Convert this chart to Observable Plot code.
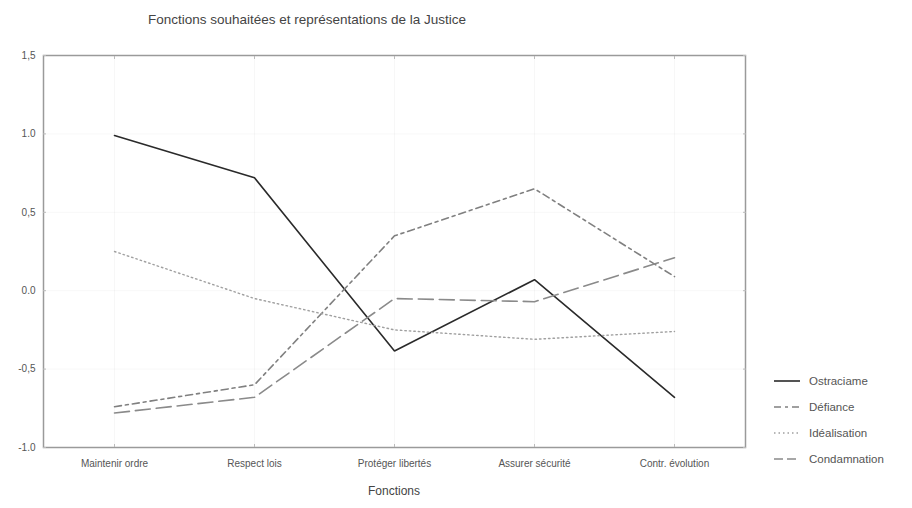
<!DOCTYPE html>
<html><head><meta charset="utf-8">
<script src="https://cdn.jsdelivr.net/npm/d3@7"></script>
<script src="https://cdn.jsdelivr.net/npm/@observablehq/plot@0.6"></script>
<style>
body{margin:0;background:#fff;font-family:"Liberation Sans",Arial,sans-serif;}
#wrap{position:relative;width:912px;height:508px;}
#title{position:absolute;left:0;width:614px;top:12px;text-align:center;font-size:13.5px;color:#444;}
#legend{position:absolute;left:774px;top:368px;font-size:11.5px;color:#555;}
#legend div{height:26px;display:flex;align-items:center;}
#legend svg{margin-right:9px;}
</style></head>
<body><div id="wrap"><div id="title">Fonctions souhaitées et représentations de la Justice</div><div id="legend"></div></div>
<script>
const categories = ["Maintenir ordre","Respect lois","Protéger libertés","Assurer sécurité","Contr. évolution"];
const seriesNames = ["Ostraciame","Défiance","Idéalisation","Condamnation"];
const ostracisme   = [0.99, 0.72, -0.385, 0.07, -0.68];
const defiance     = [-0.74, -0.60, 0.35, 0.65, 0.09];
const idealisation = [0.25, -0.05, -0.25, -0.31, -0.26];
const condamnation = [-0.78, -0.68, -0.05, -0.07, 0.21];
const yTicks = [-1, -0.5, 0, 0.5, 1, 1.5];
const yTickLabels = ["-1.0","-0,5","0.0","0,5","1.0","1,5"];
const xLabel = "Fonctions";

const styles = [
  {stroke:"#2a2a2a", dash:null, width:1.6},
  {stroke:"#808080", dash:"7,4,3,4", width:1.6},
  {stroke:"#a0a0a0", dash:"1.5,3", width:1.4},
  {stroke:"#8a8a8a", dash:"15,6", width:1.6}
];
const allValues = [ostracisme, defiance, idealisation, condamnation];
const data = [];
allValues.forEach((vals, si) => vals.forEach((v, i) => data.push({serie: seriesNames[si], cat: categories[i], v})));

const marks = [
  Plot.gridY(yTicks, {stroke:"#000", strokeOpacity:0.03}),
  Plot.gridX(categories, {stroke:"#000", strokeOpacity:0.03}),
  ...seriesNames.map((s, si) => Plot.line(data.filter(d => d.serie === s), {
    x:"cat", y:"v", stroke:styles[si].stroke, strokeWidth:styles[si].width,
    strokeDasharray:styles[si].dash, strokeLinejoin:"miter"
  })),
  Plot.frame({stroke:"#9a9a9a", strokeWidth:1.5}),
  Plot.axisY(yTicks, {tickSize:0, tickPadding:8, tickFormat:(d)=>yTickLabels[yTicks.indexOf(d)], fontSize:10, fill:"#555", label:null}),
  Plot.axisX(categories, {tickSize:0, tickPadding:12, fontSize:10, fill:"#555", label:null}),
  Plot.axisY(yTicks, {anchor:"left", tickSize:-3, tickFormat:()=>"" , stroke:"#bbb", label:null}),
  Plot.axisY(yTicks, {anchor:"right", tickSize:-3, tickFormat:()=>"" , stroke:"#bbb", label:null}),
  Plot.axisX(categories, {anchor:"top", tickSize:-3, tickFormat:()=>"" , stroke:"#bbb", label:null}),
  Plot.axisX(categories, {anchor:"bottom", tickSize:-3, tickFormat:()=>"" , stroke:"#bbb", label:null})
];

const chart = Plot.plot({
  width:912, height:508,
  marginLeft:43, marginRight:167, marginTop:55, marginBottom:61,
  style:{fontFamily:"Liberation Sans, Arial, sans-serif", background:"#fff", color:"#555"},
  x:{type:"point", domain:categories, padding:0.5},
  y:{domain:[-1, 1.5]},
  marks
});
chart.style.position = "absolute";
chart.style.left = "0"; chart.style.top = "0";
const wrap = document.getElementById("wrap");
wrap.insertBefore(chart, wrap.firstChild);

const xl = document.createElement("div");
xl.textContent = xLabel;
Object.assign(xl.style, {position:"absolute", left:"0", width:"788px", top:"484px", textAlign:"center", fontSize:"12px", color:"#444"});
wrap.appendChild(xl);

const leg = document.getElementById("legend");
seriesNames.forEach((s, si) => {
  const row = document.createElement("div");
  row.innerHTML = `<svg width="26" height="6"><line x1="0" y1="3" x2="26" y2="3" stroke="${styles[si].stroke}" stroke-width="${styles[si].width}" ${styles[si].dash ? `stroke-dasharray="${si===3?'9,4':styles[si].dash}"` : ""}/></svg><span>${s}</span>`;
  leg.appendChild(row);
});
</script></body></html>
